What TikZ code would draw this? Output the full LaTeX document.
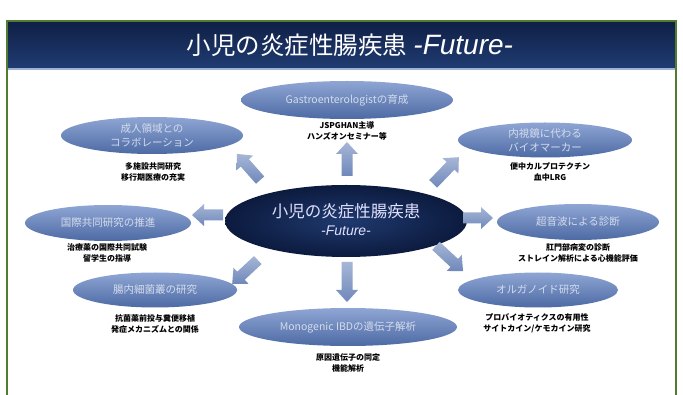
\documentclass[tikz,border=0pt]{standalone}
\usepackage{fontspec}
\setmainfont{Noto Sans CJK JP}
\newfontfamily\lat{Liberation Sans}
\usetikzlibrary{shapes.geometric}
\definecolor{navyA}{HTML}{0C1A3E}
\definecolor{navyB}{HTML}{1F3A6E}
\definecolor{barTop}{HTML}{0F1F45}
\definecolor{barBot}{HTML}{203C72}
\definecolor{frameG}{HTML}{4F7C30}
\definecolor{satTop}{HTML}{8FA6D4}
\definecolor{satMid}{HTML}{6E89C0}
\definecolor{satBot}{HTML}{4D6AA4}
\definecolor{satText}{HTML}{D4DCEC}
\definecolor{arrA}{HTML}{A6B6D6}
\definecolor{arrB}{HTML}{6F88BA}
\definecolor{lineBlue}{HTML}{9DB3D3}
\newcommand\blockarr[4]{%
  \begin{scope}[shift={(#1,#2)}, rotate=#3]
    \path[blockfill] (-#4/2,-5.5) -- (#4/2-12,-5.5) -- (#4/2-12,-11) -- (#4/2,0)
      -- (#4/2-12,11) -- (#4/2-12,5.5) -- (-#4/2,5.5) -- cycle;
  \end{scope}}
\begin{document}
\begin{tikzpicture}[x=1pt,y=-1pt,
  sat/.style={ellipse, inner sep=0, top color=satTop, middle color=satMid, bottom color=satBot, draw=none},
  sattext/.style={text=satText, font=\fontsize{10.5}{14}\selectfont, align=center, inner sep=0},
  subtext/.style={text=black, font=\fontsize{8}{11}\selectfont\bfseries, align=center, inner sep=0},
  blockfill/.style={top color=arrA, bottom color=arrB, draw=none}]
\useasboundingbox (0,0) rectangle (683,395);
\fill[white] (0,0) rectangle (683,395);
% frame and title bar
\fill[top color=barTop, bottom color=barBot] (7,21) rectangle (676,68);
\draw[lineBlue, line width=1.2pt] (7.5,69) -- (675.5,69);
\draw[frameG, line width=1.5pt] (7,396) -- (7,21) -- (676,21) -- (676,396);
\node[text=white, font=\fontsize{24.5}{27}\selectfont, inner sep=0] (title) at (350,45)
  {小児の炎症性腸疾患\hspace{6pt}{\lat\itshape\fontsize{28}{28}\selectfont -Future-}};
% center
\node[ellipse, inner sep=0, minimum width=242, minimum height=72, inner color=navyB, outer color=navyA] (c) at (346,221) {};
\node[text=white!88!blue, font=\fontsize{16.5}{20}\selectfont, inner sep=0] (cT1) at (346,211) {小児の炎症性腸疾患};
\node[text=white!88!blue, font=\lat\itshape\fontsize{14}{16}\selectfont, inner sep=0] (cT2) at (346,231) {-Future-};
% satellites
\node[sat, minimum width=212, minimum height=38] (top) at (347,100) {};
\node[sattext] (topT) at (top) {Gastroenterologistの育成};
\node[subtext] (topS) at (347,131) {JSPGHAN主導\\ハンズオンセミナー等};

\node[sat, minimum width=182, minimum height=37] (ul) at (152,135.5) {};
\node[sattext] (ulT) at (ul) {成人領域との\\コラボレーション};
\node[subtext] (ulS) at (153,171.5) {多施設共同研究\\移行期医療の充実};

\node[sat, minimum width=174, minimum height=35] (ur) at (545,140) {};
\node[sattext] (urT) at (ur) {内視鏡に代わる\\バイオマーカー};
\node[subtext] (urS) at (550,171.5) {便中カルプロテクチン\\血中LRG};

\node[sat, minimum width=166, minimum height=36] (l) at (108,223) {};
\node[sattext] (lT) at (l) {国際共同研究の推進};
\node[subtext] (lS) at (107,253) {治療薬の国際共同試験\\留学生の指導};

\node[sat, minimum width=162, minimum height=36] (r) at (578,222) {};
\node[sattext] (rT) at (r) {超音波による診断};
\node[subtext] (rS) at (578,253) {肛門部病変の診断\\ストレイン解析による心機能評価};

\node[sat, minimum width=164, minimum height=35] (ll) at (155,290) {};
\node[sattext] (llT) at (ll) {腸内細菌叢の研究};
\node[subtext] (llS) at (155,323.5) {抗菌薬前投与糞便移植\\発症メカニズムとの関係};

\node[sat, minimum width=160, minimum height=35] (lr) at (538,290) {};
\node[sattext] (lrT) at (lr) {オルガノイド研究};
\node[subtext] (lrS) at (537,323.5) {プロバイオティクスの有用性\\サイトカイン/ケモカイン研究};

\node[sat, minimum width=218, minimum height=38] (bot) at (348,327) {};
\node[sattext] (botT) at (bot) {Monogenic IBDの遺伝子解析};
\node[subtext] (botS) at (348,362.5) {原因遺伝子の同定\\機能解析};
% block arrows: x, y, angle, length
\blockarr{347}{159}{90}{34}
\blockarr{248.5}{167}{131.5}{35}
\blockarr{446}{170.5}{46}{37}
\blockarr{207.5}{215}{180}{31}
\blockarr{478}{218}{0}{30}
\blockarr{245}{272}{-137}{35}
\blockarr{449.5}{258.5}{-43}{37}
\blockarr{347}{282}{-90}{40}
\end{tikzpicture}
\end{document}
